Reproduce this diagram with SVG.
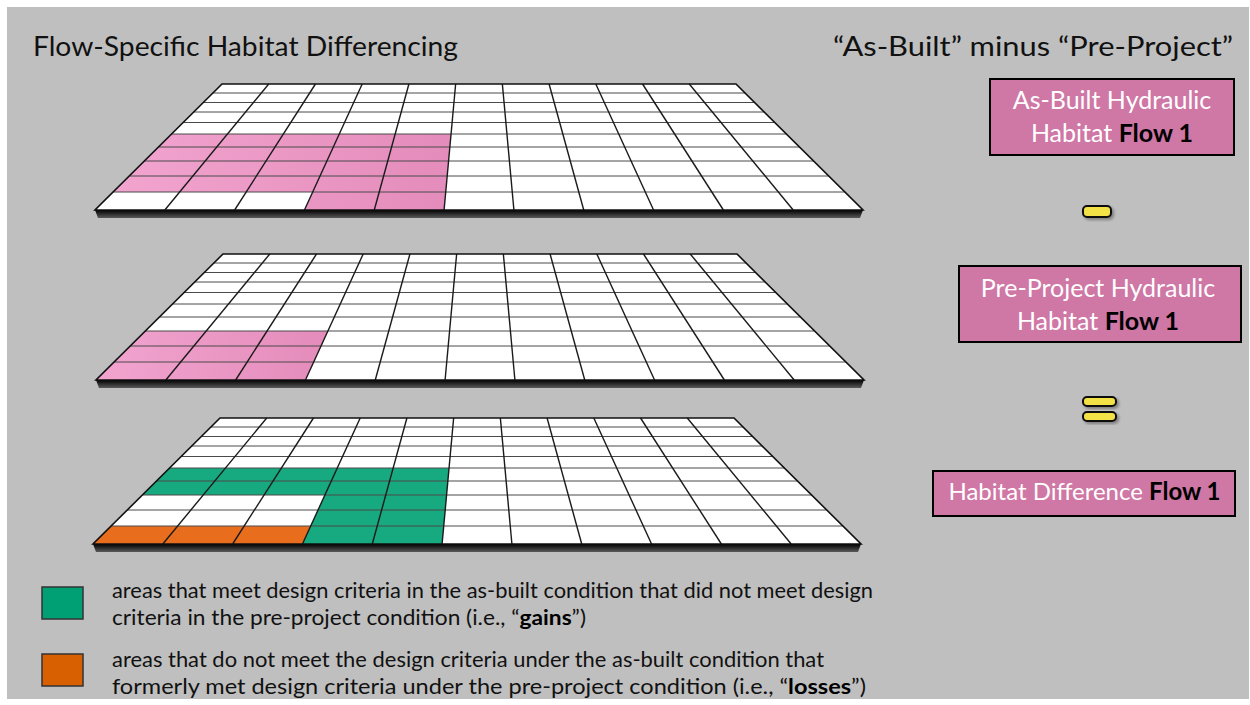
<svg xmlns="http://www.w3.org/2000/svg" width="1250" height="705" viewBox="0 0 1250 705">
  <style>
    .t { font-family: Lato, "Open Sans", "Liberation Sans", sans-serif; fill: #111; }
    .w { fill: #ffffff; }
    .b { font-weight: bold; fill: #000; }
    .hl { stroke: #4a4a4a; stroke-width: 1; fill: none; }
    .vl { stroke: #1a1a1a; stroke-width: 1.4; fill: none; }
    .box { fill: #cf77a5; stroke: #000; stroke-width: 2; }
    .op { fill: #f2e246; stroke: #111; stroke-width: 2; }
  </style>
  <defs>
    <linearGradient id="pink" x1="0" y1="0" x2="1" y2="0">
      <stop offset="0" stop-color="#f2a4cf"/>
      <stop offset="1" stop-color="#e48cbb"/>
    </linearGradient>
    <linearGradient id="base" x1="0" y1="0" x2="0" y2="1">
      <stop offset="0" stop-color="#000"/>
      <stop offset="1" stop-color="#5a5a5a"/>
    </linearGradient>
    <filter id="sh" x="-20%" y="-20%" width="150%" height="160%">
      <feGaussianBlur in="SourceAlpha" stdDeviation="1.5"/>
      <feOffset dx="2" dy="2" result="o"/>
      <feComponentTransfer><feFuncA type="linear" slope="0.35"/></feComponentTransfer>
      <feMerge><feMergeNode/><feMergeNode in="SourceGraphic"/></feMerge>
    </filter>
    <g id="plate">
      <polygon points="95,126 863,126 860,134 98,134" fill="url(#base)"/>
      <polygon points="222,0 736,0 863,126 95,126" fill="#ffffff"/>
    </g>
    <g id="lines">
      <line class="hl" x1="212.93" y1="9" x2="745.07" y2="9"/>
      <line class="hl" x1="203.35" y1="18.5" x2="754.65" y2="18.5"/>
      <line class="hl" x1="193.78" y1="28" x2="764.22" y2="28"/>
      <line class="hl" x1="183.19" y1="38.5" x2="774.81" y2="38.5"/>
      <line class="hl" x1="171.6" y1="50" x2="786.4" y2="50"/>
      <line class="hl" x1="158.5" y1="63" x2="799.5" y2="63"/>
      <line class="hl" x1="144.39" y1="77" x2="813.61" y2="77"/>
      <line class="hl" x1="129.27" y1="92" x2="828.73" y2="92"/>
      <line class="hl" x1="113.14" y1="108" x2="844.86" y2="108"/>
      <line class="vl" x1="268.73" y1="0" x2="164.82" y2="126"/>
      <line class="vl" x1="315.45" y1="0" x2="234.64" y2="126"/>
      <line class="vl" x1="362.18" y1="0" x2="304.45" y2="126"/>
      <line class="vl" x1="408.91" y1="0" x2="374.27" y2="126"/>
      <line class="vl" x1="455.64" y1="0" x2="444.09" y2="126"/>
      <line class="vl" x1="502.36" y1="0" x2="513.91" y2="126"/>
      <line class="vl" x1="549.09" y1="0" x2="583.73" y2="126"/>
      <line class="vl" x1="595.82" y1="0" x2="653.55" y2="126"/>
      <line class="vl" x1="642.55" y1="0" x2="723.36" y2="126"/>
      <line class="vl" x1="689.27" y1="0" x2="793.18" y2="126"/>
      <polygon points="222,0 736,0 863,126 95,126" fill="none" stroke="#111" stroke-width="1.6"/>
    </g>
  </defs>

  <rect id="background" x="7" y="7" width="1242" height="692" fill="#bfbfbf"/>

  <g id="title">
    <text class="t" x="33" y="56" font-size="27" textLength="425" lengthAdjust="spacingAndGlyphs">Flow-Specific Habitat Differencing</text>
    <text class="t" x="833" y="56" font-size="27" textLength="400" lengthAdjust="spacingAndGlyphs">“As-Built” minus “Pre-Project”</text>
  </g>

  <g id="grid-asbuilt" transform="translate(0,84)">
    <use href="#plate"/>
    <polygon points="171.6,50 451.07,50 444.1,126 304.46,126 312.71,108 113.14,108" fill="url(#pink)"/>
    <use href="#lines"/>
  </g>

  <g id="grid-preproject" transform="translate(1,254)">
    <use href="#plate"/>
    <polygon points="144.39,77 326.91,77 304.46,126 95,126" fill="url(#pink)"/>
    <use href="#lines"/>
  </g>

  <g id="grid-difference" transform="translate(-2,418)">
    <use href="#plate"/>
    <polygon points="171.6,50 451.07,50 444.1,126 304.46,126 326.91,77 144.39,77" fill="#17a97f"/>
    <polygon points="113.14,108 312.71,108 304.46,126 95,126" fill="#e86e1e"/>
    <use href="#lines"/>
  </g>

  <g id="box-asbuilt">
    <rect class="box" x="990" y="79" width="244" height="76"/>
    <text class="t" x="1112" y="109" font-size="25" text-anchor="middle"><tspan class="w">As-Built Hydraulic</tspan></text>
    <text class="t" x="1112" y="142" font-size="25" text-anchor="middle"><tspan class="w">Habitat </tspan><tspan class="b">Flow 1</tspan></text>
  </g>

  <g id="op-minus">
    <rect class="op" x="1083" y="206" width="28" height="11" rx="4" filter="url(#sh)"/>
  </g>

  <g id="box-preproject">
    <rect class="box" x="959" y="266" width="282" height="76"/>
    <text class="t" x="1098" y="297" font-size="25" text-anchor="middle"><tspan class="w">Pre-Project Hydraulic</tspan></text>
    <text class="t" x="1098" y="330" font-size="25" text-anchor="middle"><tspan class="w">Habitat </tspan><tspan class="b">Flow 1</tspan></text>
  </g>

  <g id="op-equals">
    <rect class="op" x="1083" y="397" width="33" height="9" rx="4" filter="url(#sh)"/>
    <rect class="op" x="1083" y="412" width="33" height="9" rx="4" filter="url(#sh)"/>
  </g>

  <g id="box-difference">
    <rect class="box" x="933" y="471" width="302" height="45"/>
    <text class="t" x="1084.5" y="500" font-size="24" text-anchor="middle"><tspan class="w">Habitat Difference </tspan><tspan class="b">Flow 1</tspan></text>
  </g>

  <g id="legend-gains">
    <rect x="42" y="587" width="41" height="32" fill="#00a074" stroke="#333" stroke-width="1.5"/>
    <text class="t" x="112" y="598" font-size="21" textLength="761" lengthAdjust="spacingAndGlyphs">areas that meet design criteria in the as-built condition that did not meet design</text>
    <text class="t" x="112" y="625" font-size="21" textLength="474" lengthAdjust="spacingAndGlyphs">criteria in the pre-project condition (i.e., “<tspan class="b">gains</tspan>”)</text>
  </g>

  <g id="legend-losses">
    <rect x="42" y="654" width="41" height="32" fill="#d86000" stroke="#333" stroke-width="1.5"/>
    <text class="t" x="112" y="667" font-size="21" textLength="712" lengthAdjust="spacingAndGlyphs">areas that do not meet the design criteria under the as-built condition that</text>
    <text class="t" x="112" y="694" font-size="21" textLength="754" lengthAdjust="spacingAndGlyphs">formerly met design criteria under the pre-project condition (i.e., “<tspan class="b">losses</tspan>”)</text>
  </g>

  <g id="connectors"/>
</svg>
